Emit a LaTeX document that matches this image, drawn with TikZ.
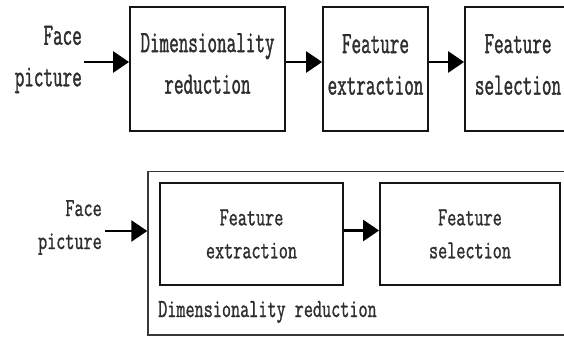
\documentclass[tikz,border=0pt]{standalone}
\usepackage{fontspec}
\newfontfamily\topf[FakeStretch=0.60,FakeBold=1.2]{Latin Modern Mono}
\newfontfamily\botf[FakeStretch=0.68,FakeBold=1.0]{Latin Modern Mono}
\usetikzlibrary{arrows.meta}
\definecolor{ink}{HTML}{2E2E2E}
\definecolor{edge}{HTML}{151515}
\begin{document}
\begin{tikzpicture}[x=1pt,y=-1pt,
  box/.style={draw=edge, line width=1.8pt, inner sep=0pt},
  obox/.style={draw=edge!85, line width=1.4pt, inner sep=0pt},
  ttop/.style={inner sep=0pt, align=center, text=ink, font=\topf\fontsize{31}{41.5}\selectfont},
  tbot/.style={inner sep=0pt, align=center, text=ink, font=\botf\fontsize{26}{33}\selectfont},
  arr/.style={draw=black, line width=2.6pt, -{Triangle[length=16pt,width=21pt]}}]
\useasboundingbox (0,0) rectangle (564,337);
\clip (0,0) rectangle (564,337);
% top row
\node[box, minimum width=155pt, minimum height=124pt] (dr) at (207.5,69) {};
\node[box, minimum width=105pt, minimum height=124pt] (fe) at (375.5,69) {};
\node[box, minimum width=106pt, minimum height=124pt] (fs) at (518,69) {};
\node[ttop] (drt) at (207.5,63.5) {Dimensionality\\reduction};
\node[ttop] (fet) at (375.5,64.5) {Feature\\extraction};
\node[ttop] (fst) at (518,64.5) {Feature\\selection};
\node[ttop, align=right, anchor=east] (fp) at (82,59.5) {Face\\picture};
\draw[arr] ([xshift=2pt,yshift=-2.5pt]fp.east) -- ([yshift=7pt]dr.west);
\draw[arr] ([yshift=7pt]dr.east) -- ([yshift=7pt]fe.west);
\draw[arr] ([yshift=7pt]fe.east) -- ([yshift=7pt]fs.west);
% bottom
\node[obox, minimum width=432pt, minimum height=163.5pt] (dro) at (364,253.25) {};
\node[box, tbot, minimum width=183pt, minimum height=102pt] (fe2) at (251.5,234) {Feature\\extraction};
\node[box, tbot, minimum width=180pt, minimum height=102pt] (fs2) at (470,234) {Feature\\selection};
\node[tbot, anchor=base west] (drl) at (158,317) {Dimensionality reduction};
\node[tbot, align=right, anchor=east] (fp2) at (102,227.5) {Face\\picture};
\draw[arr] ([xshift=3pt,yshift=-3.5pt]fp2.east) -- ([yshift=22.25pt]dro.west);
\draw[arr] ([yshift=3.5pt]fe2.east) -- ([yshift=3.5pt]fs2.west);
\end{tikzpicture}
\end{document}
